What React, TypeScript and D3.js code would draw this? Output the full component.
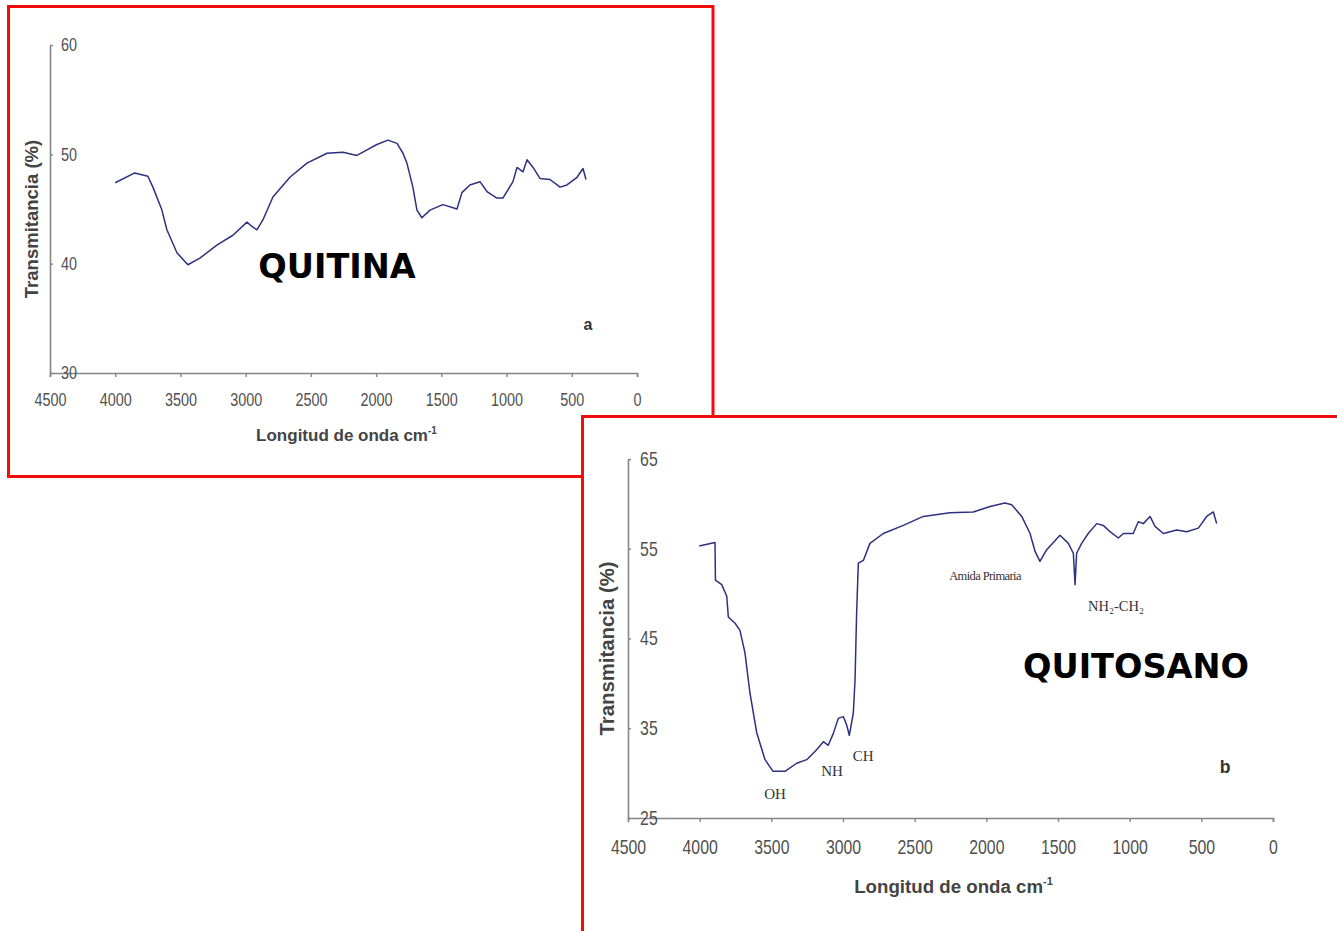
import React, { useRef, useEffect } from "react";
import * as d3 from "d3";

// Quitina spectrum (cm-1, % transmitance)
const quitinaWave = [4000, 3850, 3750, 3711, 3642, 3604, 3527, 3443, 3351, 3221, 3098, 2990, 2952, 2914, 2868, 2791, 2661, 2530, 2377, 2254, 2147, 2070, 1994, 1909, 1840, 1794, 1764, 1718, 1687, 1649, 1587, 1488, 1380, 1342, 1281, 1204, 1150, 1074, 1028, 951, 920, 874, 843, 797, 744, 667, 590, 537, 460, 414, 391];
const quitinaTrans = [47.4, 48.3, 48.0, 47.0, 44.9, 43.1, 41.0, 39.9, 40.5, 41.7, 42.6, 43.8, 43.4, 43.1, 44.0, 46.1, 47.9, 49.2, 50.1, 50.2, 49.9, 50.4, 50.9, 51.3, 51.0, 50.1, 49.2, 47.0, 44.9, 44.2, 44.9, 45.4, 45.0, 46.5, 47.2, 47.5, 46.6, 46.0, 46.0, 47.5, 48.8, 48.4, 49.5, 48.8, 47.8, 47.7, 47.0, 47.2, 47.9, 48.7, 47.7];

// Quitosano spectrum
const quitosanoWave = [4003, 3893, 3890, 3846, 3811, 3800, 3753, 3719, 3684, 3649, 3602, 3544, 3488, 3405, 3323, 3253, 3184, 3137, 3103, 3068, 3033, 2998, 2975, 2956, 2928, 2916, 2905, 2893, 2858, 2812, 2719, 2579, 2440, 2254, 2091, 1974, 1870, 1823, 1753, 1695, 1660, 1626, 1579, 1486, 1428, 1393, 1381, 1370, 1335, 1289, 1230, 1184, 1137, 1079, 1044, 975, 940, 905, 858, 823, 765, 672, 602, 521, 463, 416, 393];
const quitosanoTrans = [55.3, 55.7, 51.5, 51.0, 49.7, 47.4, 46.7, 45.9, 43.4, 38.9, 34.5, 31.5, 30.2, 30.2, 31.1, 31.5, 32.6, 33.5, 33.1, 34.4, 36.1, 36.3, 35.4, 34.2, 36.7, 40.4, 47.8, 53.4, 53.7, 55.6, 56.7, 57.6, 58.6, 59.0, 59.1, 59.7, 60.1, 59.9, 58.6, 56.7, 54.7, 53.6, 54.9, 56.5, 55.6, 54.5, 51.0, 54.5, 55.6, 56.7, 57.8, 57.6, 56.9, 56.2, 56.7, 56.7, 58.0, 57.8, 58.6, 57.5, 56.7, 57.1, 56.9, 57.3, 58.6, 59.1, 57.8];

const xTicks = [4500, 4000, 3500, 3000, 2500, 2000, 1500, 1000, 500, 0];
const quitinaYTicks = [30, 40, 50, 60];
const quitosanoYTicks = [25, 35, 45, 55, 65];

// band labels for quitosano: [text, wavenumber, transmitance]
const bandText = ["OH", "NH", "CH", "Amida Primaria", "NH\u2082-CH\u2082"];
const bandWave = [3474, 3077, 2860, 2009, 1095];
const bandTrans = [27.1, 29.7, 31.35, 51.5, 48.1];

const LINE_COLOR = "#2d3180";
const SANS = "'Liberation Sans', Arial, sans-serif";
const SQUEEZE = 0.8;

const Panel = (props) => {
	const g_ref = useRef(null);
	const { frame, x0, x1, yTop, yBottom, yDomain, yTicks, waves, trans, scale, title, titleX, titleY, letter, letterX, letterY, xTitleY, yTitleX } = props;

	useEffect(() => {
		const g = d3.select(g_ref.current);
		g.selectChildren().remove();

		// red frame
		g.append("rect")
			.attr("x", frame[0]).attr("y", frame[1])
			.attr("width", frame[2]).attr("height", frame[3])
			.attr("fill", "white")
			.attr("stroke", "#f20d0d")
			.attr("stroke-width", 3);

		const x_scale = d3.scaleLinear().domain([4500, 0]).range([x0, x1]);
		const y_scale = d3.scaleLinear().domain(yDomain).range([yBottom, yTop]);

		const fs = 18 * scale;

		// x axis
		const x_axis = d3.axisBottom(x_scale).tickValues(xTicks).tickSize(4).tickSizeOuter(4).tickPadding(16 * scale).tickFormat(d3.format("d"));
		const xg = g.append("g").attr("transform", `translate(0, ${yBottom})`).call(x_axis);
		xg.select(".domain").attr("stroke", "#858585").attr("stroke-width", 1.6);
		xg.selectAll(".tick line").attr("stroke", "#858585").attr("stroke-width", 1.4);
		xg.selectAll(".tick text")
			.attr("fill", "#505050")
			.attr("transform", `scale(${SQUEEZE},1)`)
			.style("font-family", SANS).style("font-size", fs + "px");

		// y axis (labels inside)
		const y_axis = d3.axisRight(y_scale).tickValues(yTicks).tickSize(3).tickSizeOuter(0);
		const yg = g.append("g").attr("transform", `translate(${x0}, 0)`).call(y_axis);
		yg.select(".domain").attr("stroke", "#858585").attr("stroke-width", 1.6);
		yg.selectAll(".tick line").attr("stroke", "#858585").attr("stroke-width", 1.4);
		yg.selectAll(".tick text")
			.attr("fill", "#505050")
			.attr("x", 0)
			.attr("transform", `translate(${11 * scale},0) scale(${SQUEEZE},1)`)
			.style("font-family", SANS).style("font-size", fs + "px");

		// spectrum line
		const pts = waves.map((w, i) => [w, trans[i]]);
		g.append("path")
			.datum(pts)
			.attr("fill", "none")
			.attr("stroke", LINE_COLOR)
			.attr("stroke-width", 1.5)
			.attr("stroke-linejoin", "round")
			.attr("d", d3.line().x(d => x_scale(d[0])).y(d => y_scale(d[1])));

		// axis titles
		const xt = g.append("text")
			.attr("x", (x0 + x1) / 2 + 3)
			.attr("y", xTitleY)
			.attr("text-anchor", "middle")
			.attr("fill", "#444")
			.style("font-family", SANS)
			.style("font-weight", "bold")
			.style("font-size", 17 * scale + "px");
		xt.append("tspan").text("Longitud de onda cm");
		xt.append("tspan").attr("dy", -7 * scale).style("font-size", 10 * scale + "px").text("-1");

		g.append("text")
			.attr("transform", `translate(${yTitleX}, ${(yTop + yBottom) / 2 + 10}) rotate(-90)`)
			.attr("text-anchor", "middle")
			.attr("fill", "#444")
			.style("font-family", SANS)
			.style("font-weight", "bold")
			.style("font-size", 18.5 * scale + "px")
			.text("Transmitancia (%)");

		// big title
		g.append("text")
			.attr("x", titleX).attr("y", titleY)
			.attr("text-anchor", "middle")
			.attr("fill", "#000")
			.style("font-family", "'DejaVu Sans', Verdana, sans-serif")
			.style("font-weight", "bold")
			.style("font-size", "33.5px")
			.text(title);

		g.append("text")
			.attr("x", letterX).attr("y", letterY)
			.attr("text-anchor", "middle")
			.attr("fill", "#333")
			.style("font-family", SANS)
			.style("font-weight", "bold")
			.style("font-size", 16 * scale + "px")
			.text(letter);

		if (props.bands) {
			bandText.forEach((t, i) => {
				const el = g.append("text")
					.attr("x", x_scale(bandWave[i]))
					.attr("y", y_scale(bandTrans[i]))
					.attr("text-anchor", "middle")
					.attr("fill", "#333")
					.style("font-family", "'Liberation Serif', 'Times New Roman', serif");
				if (t.includes("\u2082")) {
					el.style("font-size", "14.5px");
				} else if (t.length > 4) {
					el.style("font-size", "12.5px").style("letter-spacing", "-0.6px");
				} else {
					el.style("font-size", "15px");
				}
				el.text(t);
			});
		}
	});

	return <g ref={g_ref}></g>;
};

export default function App() {
	return (
		<svg width={1337} height={931} style={{ position: "absolute", left: 0, top: 0, background: "white" }}>
			<Panel
				frame={[8.5, 6.5, 704.5, 470]}
				x0={50} x1={637} yTop={45} yBottom={373}
				yDomain={[30, 60]} yTicks={quitinaYTicks}
				waves={quitinaWave} trans={quitinaTrans}
				scale={1}
				title="QUITINA" titleX={337} titleY={278}
				letter="a" letterX={588} letterY={330}
				xTitleY={441} yTitleX={38}
			/>
			<Panel
				frame={[582.5, 416.5, 760, 520]}
				x0={628} x1={1273} yTop={459} yBottom={818}
				yDomain={[25, 65]} yTicks={quitosanoYTicks}
				waves={quitosanoWave} trans={quitosanoTrans}
				scale={1.1}
				title="QUITOSANO" titleX={1136} titleY={678}
				letter="b" letterX={1225} letterY={773}
				xTitleY={893} yTitleX={614}
				bands={true}
			/>
		</svg>
	);
}
